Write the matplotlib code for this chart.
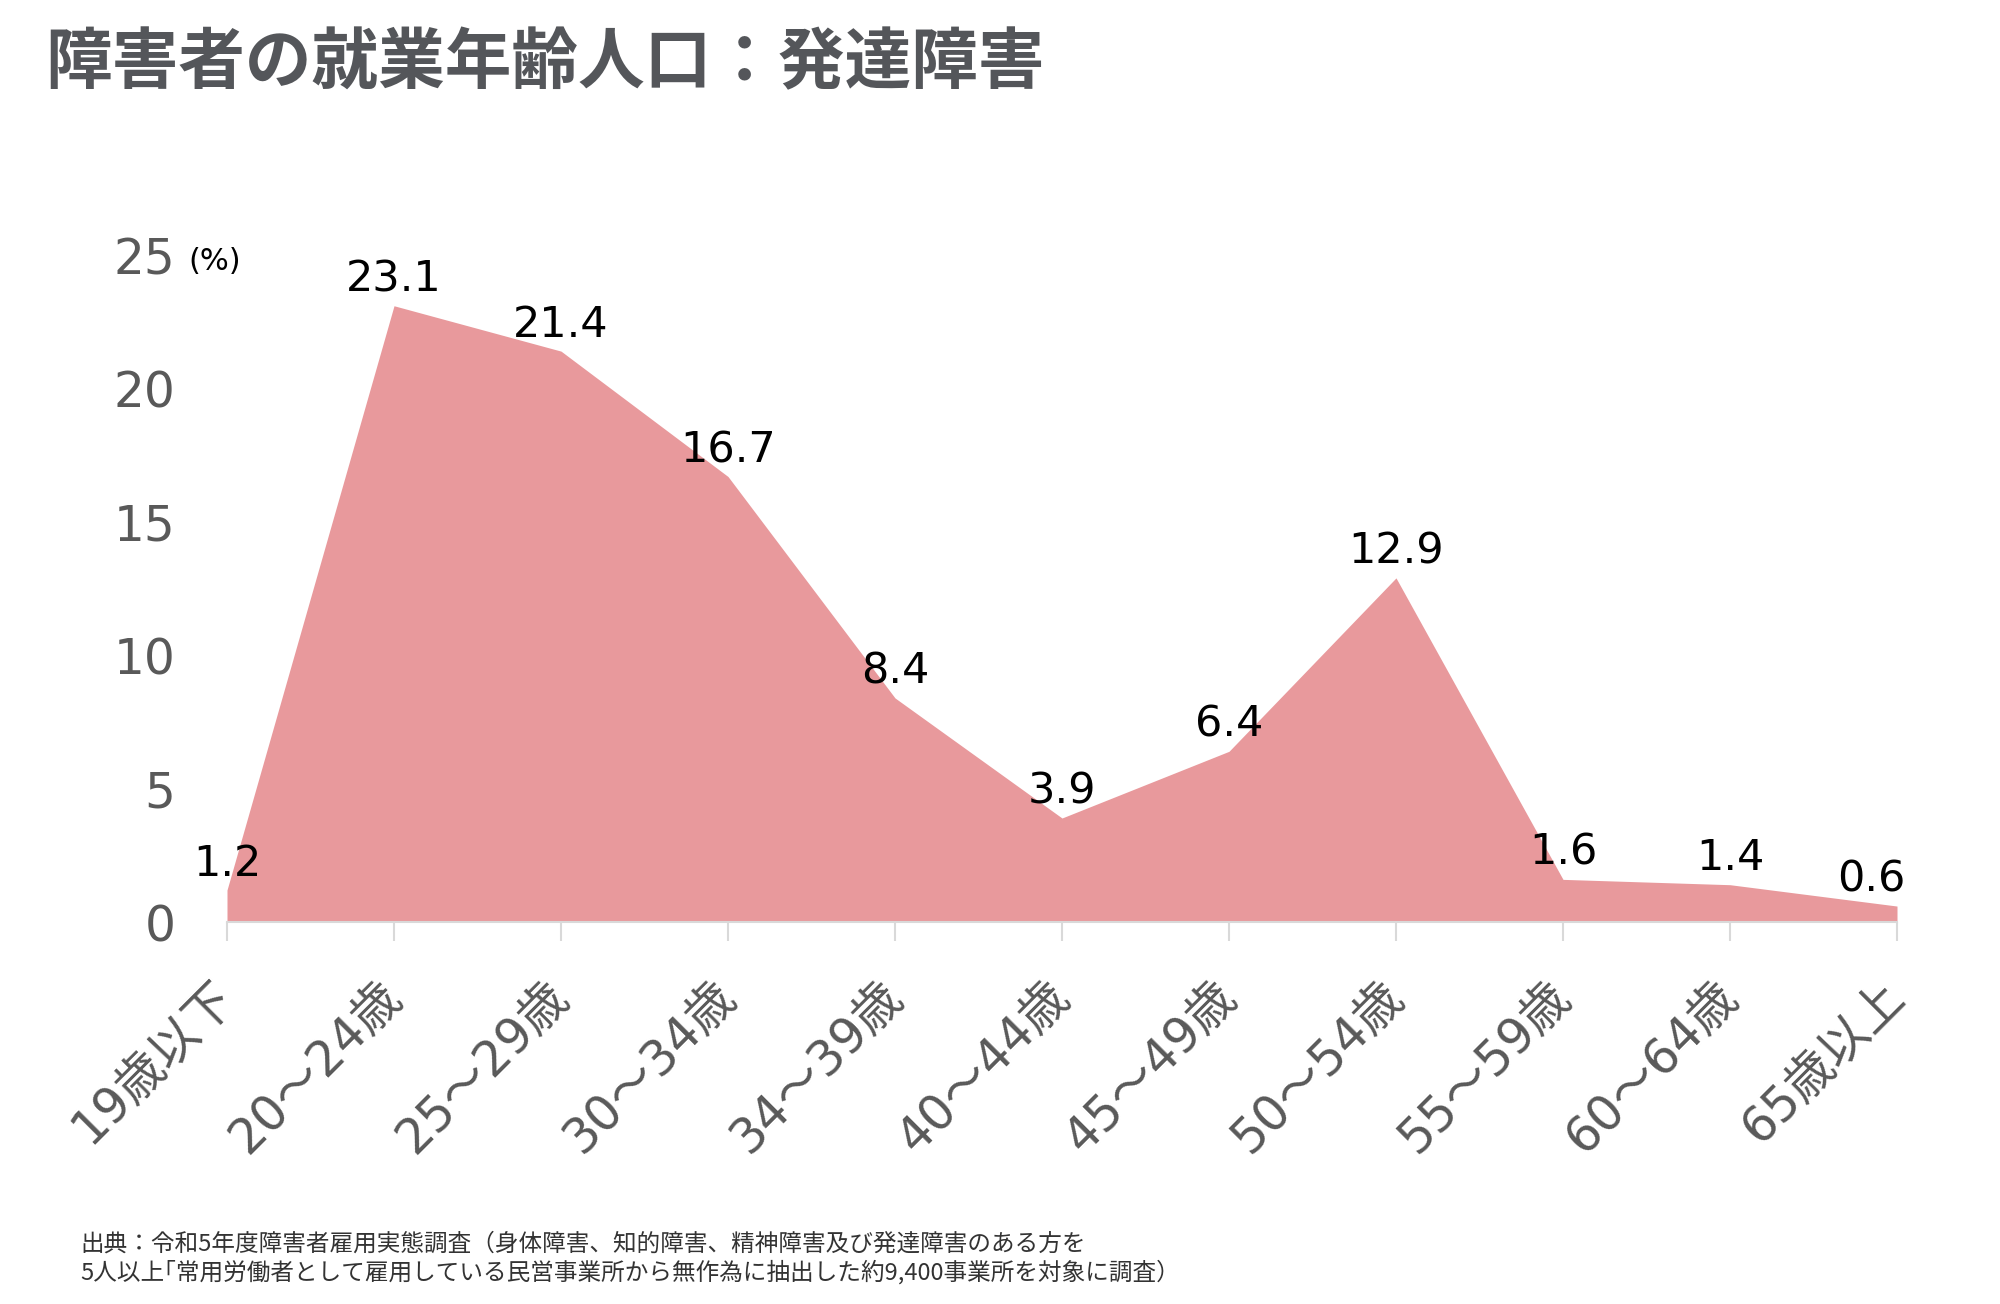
import matplotlib
matplotlib.use("Agg")
import matplotlib.pyplot as plt
import numpy as np

plt.rcParams['font.family'] = ['DejaVu Sans', 'Noto Sans CJK JP']

# data
age_groups = ["19歳以下", "20～24歳", "25～29歳", "30～34歳", "34～39歳", "40～44歳",
              "45～49歳", "50～54歳", "55～59歳", "60～64歳", "65歳以上"]
share = [1.2, 23.1, 21.4, 16.7, 8.4, 3.9, 6.4, 12.9, 1.6, 1.4, 0.6]
y_ticks = [0, 5, 10, 15, 20, 25]

title = "障害者の就業年齢人口：発達障害"
source_lines = [
    "出典：令和5年度障害者雇用実態調査（身体障害、知的障害、精神障害及び発達障害のある方を",
    "5人以上｢常用労働者として雇用している民営事業所から無作為に抽出した約9,400事業所を対象に調査）",
]

fill_color = "#E8999C"
gray = "#595959"

fig = plt.figure(figsize=(20, 13.04), dpi=100)
ax = fig.add_axes([0.1135, 0.2929, 0.835, 0.5115])

x = np.arange(len(age_groups))
ax.fill_between(x, share, 0, color=fill_color, linewidth=0)

ax.set_xlim(0, len(age_groups) - 1)
ax.set_ylim(0, 25)

for s in ["top", "right", "left"]:
    ax.spines[s].set_visible(False)
ax.spines["bottom"].set_color("#d9d9d9")
ax.spines["bottom"].set_linewidth(1.5)

ax.set_yticks(y_ticks)
ax.set_yticklabels([str(v) for v in y_ticks])
ax.tick_params(axis="y", length=0, pad=37, labelsize=35, labelcolor=gray)

ax.set_xticks(x)
ax.set_xticklabels(age_groups, rotation=45, ha="right", va="center",
                   rotation_mode="anchor")
ax.tick_params(axis="x", direction="out", length=14, width=1.5, color="#d9d9d9",
               pad=34, labelsize=35, labelcolor=gray)

# data labels
for i, v in enumerate(share):
    ha = "center"
    dx = 0
    if i == len(share) - 1:
        ha = "right"
        dx = 6
    ax.annotate(f"{v:.1f}", (x[i], v), xytext=(dx, 19), textcoords="offset points",
                ha=ha, va="center", fontsize=31, color="black", clip_on=False)

fig.text(188 / 2000, 1 - 270 / 1304, "(%)", fontsize=22, color="black",
         ha="left", va="baseline")

fig.text(45 / 2000, 1 - 64 / 1304, title, fontsize=48, fontweight="bold",
         color="#54565a", family=["Noto Sans CJK JP"], ha="left", va="center")

fig.text(80 / 2000, 1 - 1244 / 1304, source_lines[0], fontsize=17, color="#333333",
         family=["Noto Sans CJK JP"], ha="left", va="center")
fig.text(80 / 2000, 1 - 1272 / 1304, source_lines[1], fontsize=17, color="#333333",
         family=["Noto Sans CJK JP"], ha="left", va="center")

fig.savefig("out.png", dpi=100, facecolor="white")
